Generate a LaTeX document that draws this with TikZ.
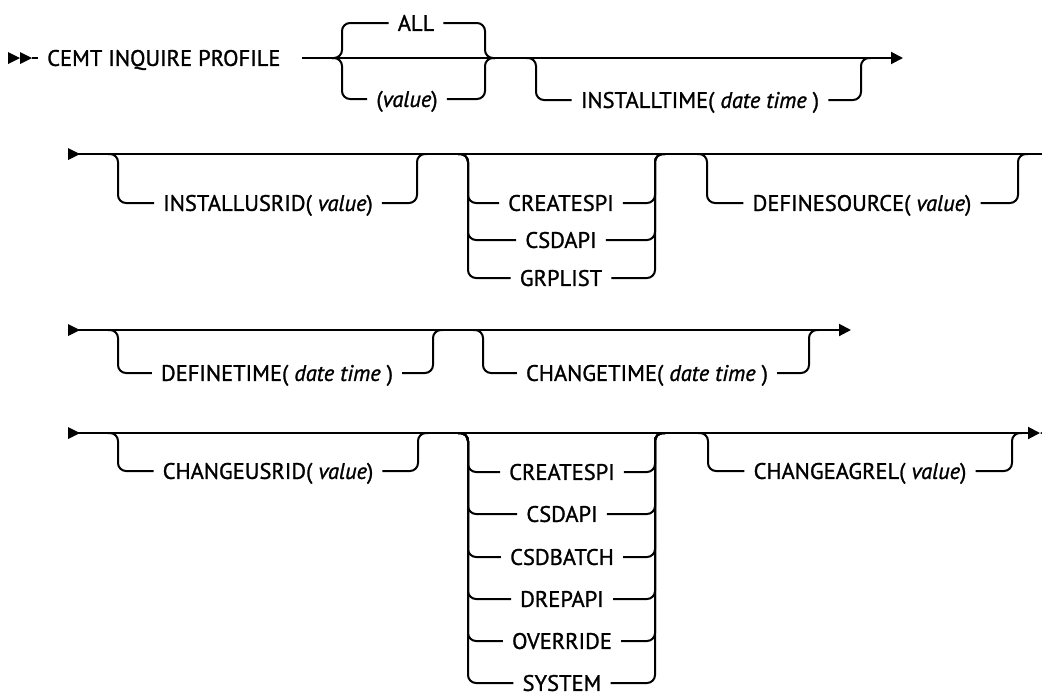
\documentclass[tikz,border=0pt]{standalone}
\usepackage{fontspec}
\setmainfont{PT Sans}[FakeBold=1.2]
\usetikzlibrary{arrows.meta}
\tikzset{
  rail/.style={line width=2pt},
  branchrail/.style={rail,rounded corners=8pt},
  railend/.style={rail,-{Triangle[length=12pt,width=12pt]}},
  kw/.style={font=\fontsize{22.5}{26}\selectfont,text height=15.8pt,
    text depth=0pt,inner xsep=9pt,inner ysep=0pt},
}

\begin{document}
\begin{tikzpicture}[x=1pt,y=-1pt]
  \useasboundingbox (0,0) rectangle (1042,694);

  % row 1
  \fill (8,52) -- (20,58) -- (8,64) -- cycle (20,52) -- (32,58) -- (20,64) -- cycle;
  \node[kw,anchor=west] (title) at (38,58) {CEMT INQUIRE PROFILE};
  \coordinate (r1end) at (903,58);
  \draw[rail] (32,58) -- (title.west);
  \draw[railend] (302,58) -- (r1end);
  \node[kw] (all) at (416,23) {ALL};
  \node[kw] (val) at (407,99) {(\textit{value})};
  \draw[branchrail] (332,58) -| (342,23) -- (all.west);
  \draw[branchrail] (332,58) -| (342,99) -- (val.west);
  \draw[branchrail] (all.east) -| (485,58) -- (495,58);
  \draw[branchrail] (val.east) -| (485,58) -- (495,58);
  \node[kw] (insttime) at (700,100) {INSTALLTIME( \textit{date time} )};
  \draw[branchrail] (526,58) -| (536,100) -- (insttime.west);
  \draw[branchrail] (insttime.east) -| (861,58) -- (871,58);

  % row 2
  \fill (68,148) -- (80,154) -- (68,160) -- cycle;
  \coordinate (r2start) at (68,154);
  \coordinate (r2end) at (1042,154);
  \draw[rail] (r2start) -- (r2end);
  \node[kw] (instusr) at (268,203) {INSTALLUSRID( \textit{value})};
  \draw[branchrail] (108,154) -| (118,203) -- (instusr.west);
  \draw[branchrail] (instusr.east) -| (417,154) -- (427,154);
  \foreach \name/\y in {CREATESPI/203,CSDAPI/240,GRPLIST/278} {
    \node[kw] (src\name) at (561,\y) {\name};
    \draw[branchrail] (458,154) -| (468,\y) -- (src\name.west);
    \draw[branchrail] (src\name.east) -| (655,154) -- (665,154);
  }
  \node[kw] (defsrc) at (862,203) {DEFINESOURCE( \textit{value})};
  \draw[branchrail] (697,154) -| (707,203) -- (defsrc.west);
  \draw[branchrail] (defsrc.east) -| (1018,154) -- (1028,154);

  % row 3
  \fill (68,324) -- (80,330) -- (68,336) -- cycle;
  \coordinate (r3start) at (68,330);
  \coordinate (r3end) at (851,330);
  \draw[railend] (r3start) -- (r3end);
  \node[kw] (deftime) at (277,373) {DEFINETIME( \textit{date time} )};
  \draw[branchrail] (108,330) -| (118,373) -- (deftime.west);
  \draw[branchrail] (deftime.east) -| (433,330) -- (443,330);
  \node[kw] (chgtime) at (647,373) {CHANGETIME( \textit{date time} )};
  \draw[branchrail] (473,330) -| (483,373) -- (chgtime.west);
  \draw[branchrail] (chgtime.east) -| (809,330) -- (819,330);

  % row 4
  \fill (68,427) -- (80,433) -- (68,439) -- cycle;
  \coordinate (r4start) at (68,433);
  \coordinate (r4end) at (1040,433);
  \draw[railend] (r4start) -- (r4end);
  \fill (r4end) -- ++(12,-6) -- ++(0,12) -- cycle;
  \node[kw] (chgusr) at (268,471) {CHANGEUSRID( \textit{value})};
  \draw[branchrail] (108,433) -| (118,471) -- (chgusr.west);
  \draw[branchrail] (chgusr.east) -| (418,433) -- (428,433);
  \foreach \name/\y in {CREATESPI/472,CSDAPI/514,CSDBATCH/557,
                        DREPAPI/599,OVERRIDE/641,SYSTEM/683} {
    \node[kw] (agr\name) at (562,\y) {\name};
    \draw[branchrail] (458,433) -| (468,\y) -- (agr\name.west);
    \draw[branchrail] (agr\name.east) -| (655,433) -- (665,433);
  }
  \node[kw] (chgagrel) at (860,471) {CHANGEAGREL( \textit{value})};
  \draw[branchrail] (698,433) -| (708,471) -- (chgagrel.west);
  \draw[branchrail] (chgagrel.east) -| (1012,433) -- (1022,433);
\end{tikzpicture}
\end{document}
